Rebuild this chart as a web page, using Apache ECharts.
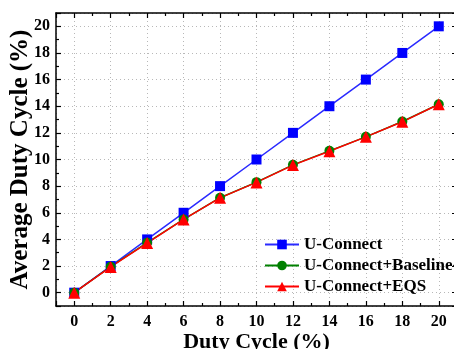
<!DOCTYPE html>
<html>
<head>
<meta charset="utf-8">
<script src="https://cdn.jsdelivr.net/npm/echarts@6/dist/echarts.min.js"></script>
<style>
  html, body { margin: 0; padding: 0; background: #fff; }
  #chart { width: 454px; height: 349px; }
</style>
</head>
<body>
<div id="chart"></div>
<script>
const dutyCycle = [0, 2, 4, 6, 8, 10, 12, 14, 16, 18, 20]
const uConnect = [0, 2, 4, 6, 8, 10, 12, 14, 16, 18, 20]
const uConnectBaseline = [0, 1.95, 3.75, 5.5, 7.13, 8.3, 9.6, 10.65, 11.7, 12.85, 14.15]
const uConnectEQS = [0, 1.93, 3.73, 5.5, 7.12, 8.28, 9.58, 10.62, 11.7, 12.83, 14.15]

const font = 'Liberation Serif'

function pairs (xs, ys) {
  return xs.map((x, i) => [x, ys[i]])
}

function evenOnly (v) {
  return v % 2 === 0 ? String(v) : ''
}

function makeAxis (pos, isMain, name) {
  const bottom = pos === 'bottom'
  return {
    type: 'value',
    position: pos,
    min: -1,
    max: 21,
    splitNumber: 11,
    name: isMain ? name : '',
    nameLocation: 'middle',
    nameGap: bottom ? 25 : 23,
    nameMoveOverlap: false,
    nameTextStyle: { fontFamily: font, fontWeight: 'bold', fontSize: bottom ? 22 : 25, color: '#000' },
    axisLine: { show: true, onZero: false, lineStyle: { color: '#000', width: 1.5 } },
    axisTick: { show: true, inside: true, length: 5, lineStyle: { color: '#000', width: 1.2 } },
    minorTick: { show: true, splitNumber: 2, length: 3, lineStyle: { color: '#000', width: 1.2 } },
    axisLabel: {
      show: isMain,
      formatter: evenOnly,
      fontFamily: font,
      fontWeight: 'bold',
      fontSize: 16,
      color: '#000',
      margin: bottom ? 8 : 6
    },
    splitLine: {
      show: isMain,
      lineStyle: { color: '#b8b8b8', type: [1, 3], width: 1 }
    }
  }
}

const chart = echarts.init(document.getElementById('chart'))
chart.setOption({
  animation: false,
  grid: { left: 56, right: -3, top: 13, bottom: 43, outerBoundsMode: 'none', containLabel: false },
  legend: {
    orient: 'vertical',
    left: 259,
    top: 231,
    itemWidth: 34,
    itemHeight: 12,
    itemGap: 4,
    textStyle: { fontFamily: font, fontWeight: 'bold', fontSize: 17, color: '#000' },
    data: ['U-Connect', 'U-Connect+Baseline-EQS', 'U-Connect+EQS']
  },
  xAxis: [
    makeAxis('bottom', true, 'Duty Cycle (%)'),
    makeAxis('top', false, '')
  ],
  yAxis: [
    makeAxis('left', true, 'Average Duty Cycle (%)'),
    makeAxis('right', false, '')
  ],
  series: [
    {
      name: 'U-Connect',
      type: 'line',
      data: pairs(dutyCycle, uConnect),
      symbol: 'rect',
      symbolSize: 10,
      color: '#0000ff',
      lineStyle: { color: '#2a2aff', width: 1.5 },
      itemStyle: { color: '#0000ff' }
    },
    {
      name: 'U-Connect+Baseline-EQS',
      type: 'line',
      data: pairs(dutyCycle, uConnectBaseline),
      symbol: 'circle',
      symbolSize: 10,
      color: '#008000',
      lineStyle: { color: '#008000', width: 1.5 },
      itemStyle: { color: '#008000' }
    },
    {
      name: 'U-Connect+EQS',
      type: 'line',
      data: pairs(dutyCycle, uConnectEQS),
      symbol: 'triangle',
      symbolSize: 12,
      color: '#ff0000',
      lineStyle: { color: '#ff0000', width: 1.5 },
      itemStyle: { color: '#ff0000' }
    }
  ]
})
</script>
</body>
</html>
